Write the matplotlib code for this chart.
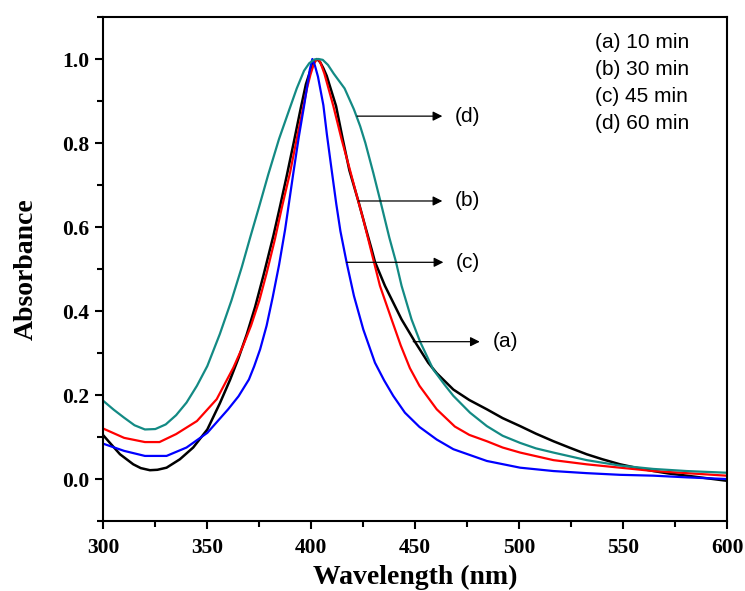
import matplotlib

matplotlib.use("Agg")
import matplotlib.pyplot as plt
from matplotlib.ticker import MultipleLocator

# curve (a) 10 min - black
wl_a = [300, 303, 308, 314.4, 318, 322.4, 326, 330.4, 336.8, 343.2, 350, 356,
        361, 365, 369, 373, 377, 381.8, 385, 388.1, 391.5, 394.8, 397.4, 399.5,
        401.2, 402.7, 404.2, 405.8, 407.4, 411.9, 415, 418.3, 422.6, 426, 429,
        430.6, 435.4, 443.4, 449.8, 456.2, 460.3, 468.3, 476, 484.4, 492, 500.4,
        508, 516.4, 524, 532.4, 540, 548.5, 556, 564.5, 572, 580.5, 590, 599.5]
abs_a = [0.104, 0.087, 0.059, 0.035, 0.026, 0.021, 0.022, 0.027, 0.047, 0.075,
         0.118, 0.180, 0.237, 0.288, 0.345, 0.410, 0.485, 0.580, 0.650, 0.720,
         0.800, 0.880, 0.940, 0.972, 0.992, 1.000, 0.993, 0.978, 0.960, 0.888,
         0.812, 0.735, 0.662, 0.600, 0.547, 0.517, 0.460, 0.380, 0.327, 0.277,
         0.252, 0.213, 0.188, 0.166, 0.145, 0.126, 0.108, 0.090, 0.075, 0.059,
         0.047, 0.035, 0.027, 0.019, 0.013, 0.008, 0.002, -0.004]

# curve (b) 30 min - red
wl_b = [300, 310, 320, 327, 335, 345, 354.5, 362.5, 367, 371, 375, 378.5,
        382.5, 386, 389.8, 393, 395.9, 398, 399.6, 401, 402.2, 403.3, 404.5,
        406.3, 410.6, 414.5, 418.9, 422, 425, 430.1, 433, 438.6, 443, 447.4,
        452, 460.3, 469, 476, 484.4, 492, 500.4, 516.4, 532.4, 548.5, 564.5,
        580.5, 599.5]
abs_b = [0.120, 0.098, 0.088, 0.088, 0.107, 0.138, 0.190, 0.265, 0.315, 0.365,
         0.425, 0.490, 0.571, 0.650, 0.730, 0.810, 0.880, 0.932, 0.963, 0.985,
         0.997, 1.000, 0.990, 0.965, 0.888, 0.810, 0.730, 0.672, 0.618, 0.517,
         0.460, 0.380, 0.318, 0.264, 0.222, 0.166, 0.125, 0.105, 0.090, 0.075,
         0.063, 0.045, 0.035, 0.027, 0.019, 0.014, 0.008]

# curve (c) 45 min - blue
wl_c = [300, 310, 320, 330.4, 340, 350, 360, 365, 370, 372.5, 375.4, 378.5,
        381.4, 384.5, 387.4, 391.4, 394, 396.5, 398, 399.3, 400.5, 401.7, 403.2,
        405.8, 407.5, 409.8, 412, 414, 417, 420.5, 425, 430.6, 435, 439.4, 445,
        452, 460.3, 468.3, 484.4, 500.4, 516.4, 532.4, 548.5, 564.5, 580.5,
        599.5]
abs_c = [0.084, 0.067, 0.055, 0.055, 0.075, 0.110, 0.166, 0.197, 0.237, 0.268,
         0.309, 0.365, 0.432, 0.510, 0.594, 0.730, 0.815, 0.888, 0.935, 0.975,
         1.000, 0.985, 0.958, 0.890, 0.820, 0.735, 0.655, 0.590, 0.515, 0.436,
         0.356, 0.277, 0.235, 0.198, 0.158, 0.124, 0.094, 0.071, 0.043, 0.027,
         0.019, 0.014, 0.010, 0.008, 0.004, 0.000]

# curve (d) 60 min - teal
wl_d = [300, 305, 310, 315, 320, 325, 330, 335, 340, 345, 350, 356, 361.6,
        366.6, 370.6, 375, 379.3, 384.5, 389.8, 393, 396.5, 399, 401.5, 403.5,
        405.5, 408, 410.8, 416, 420.5, 423.5, 426, 429.8, 433.8, 437.5, 440.7,
        443.4, 448.2, 452.3, 458.6, 464, 468.3, 476.3, 484.4, 492, 500.4, 508,
        516.4, 532.4, 548.5, 564.5, 580.5, 599.5]
abs_d = [0.186, 0.165, 0.146, 0.128, 0.118, 0.119, 0.130, 0.152, 0.182, 0.222,
         0.269, 0.345, 0.425, 0.505, 0.575, 0.650, 0.725, 0.810, 0.885, 0.930,
         0.972, 0.990, 0.999, 1.000, 0.998, 0.986, 0.965, 0.930, 0.880, 0.840,
         0.800, 0.729, 0.650, 0.575, 0.517, 0.460, 0.380, 0.327, 0.261, 0.225,
         0.198, 0.158, 0.126, 0.103, 0.086, 0.073, 0.063, 0.045, 0.032, 0.024,
         0.019, 0.015]

legend_labels = ["(a) 10 min", "(b) 30 min", "(c) 45 min", "(d) 60 min"]
arrow_labels = ["(d)", "(b)", "(c)", "(a)"]
arrow_from = [(422.0, 0.864), (422.6, 0.662), (417.0, 0.516), (449.0, 0.327)]
arrow_to = [(463.0, 0.864), (463.0, 0.662), (463.5, 0.516), (481.0, 0.327)]

serif = "Liberation Serif"
sans = "Liberation Sans"

fig = plt.figure(figsize=(7.45, 5.91), dpi=100)
ax = fig.add_axes([0.1387, 0.1184, 0.9762 - 0.1387, 0.9712 - 0.1184])

ax.plot(wl_a, abs_a, color="black", lw=1.8)
ax.plot(wl_b, abs_b, color="#ff0000", lw=1.6)
ax.plot(wl_c, abs_c, color="#0000ff", lw=1.6)
ax.plot(wl_d, abs_d, color="#138a84", lw=1.6)

ax.set_xlim(300, 600)
ax.set_ylim(-0.1, 1.1)
ax.xaxis.set_major_locator(MultipleLocator(50))
ax.xaxis.set_minor_locator(MultipleLocator(25))
ax.yaxis.set_major_locator(MultipleLocator(0.2))
ax.yaxis.set_minor_locator(MultipleLocator(0.1))
ax.tick_params(which="both", direction="out", width=1.5, top=False, right=False)
ax.tick_params(which="major", length=6)
ax.tick_params(which="minor", length=4)
ax.tick_params(axis="x", pad=6)
ax.tick_params(axis="y", pad=4)
for sp in ax.spines.values():
    sp.set_linewidth(1.5)
for lab in ax.get_xticklabels() + ax.get_yticklabels():
    lab.set_fontfamily(serif)
    lab.set_fontweight("bold")
    lab.set_fontsize(15.5)

ax.set_xlabel("Wavelength (nm)", fontfamily=serif, fontweight="bold",
              fontsize=20, labelpad=5)
ax.set_ylabel("Absorbance", fontfamily=serif, fontweight="bold",
              fontsize=20, labelpad=17)

# text legend, top right
leg_y = [1.039, 0.974, 0.911, 0.847]
for lbl, yy in zip(legend_labels, leg_y):
    ax.text(536.4, yy, lbl, fontfamily=sans, fontsize=15, va="center", ha="left")

# arrows pointing to the curves
for lbl, p0, p1 in zip(arrow_labels, arrow_from, arrow_to):
    ax.annotate("", xy=p1, xytext=p0,
                arrowprops=dict(arrowstyle="-|>", color="black", lw=0.9,
                                mutation_scale=14, shrinkA=0, shrinkB=0))
    ax.text(p1[0] + 6, p1[1], lbl, fontfamily=sans, fontsize=15,
            va="center", ha="left")

fig.savefig("out.png", dpi=100)
